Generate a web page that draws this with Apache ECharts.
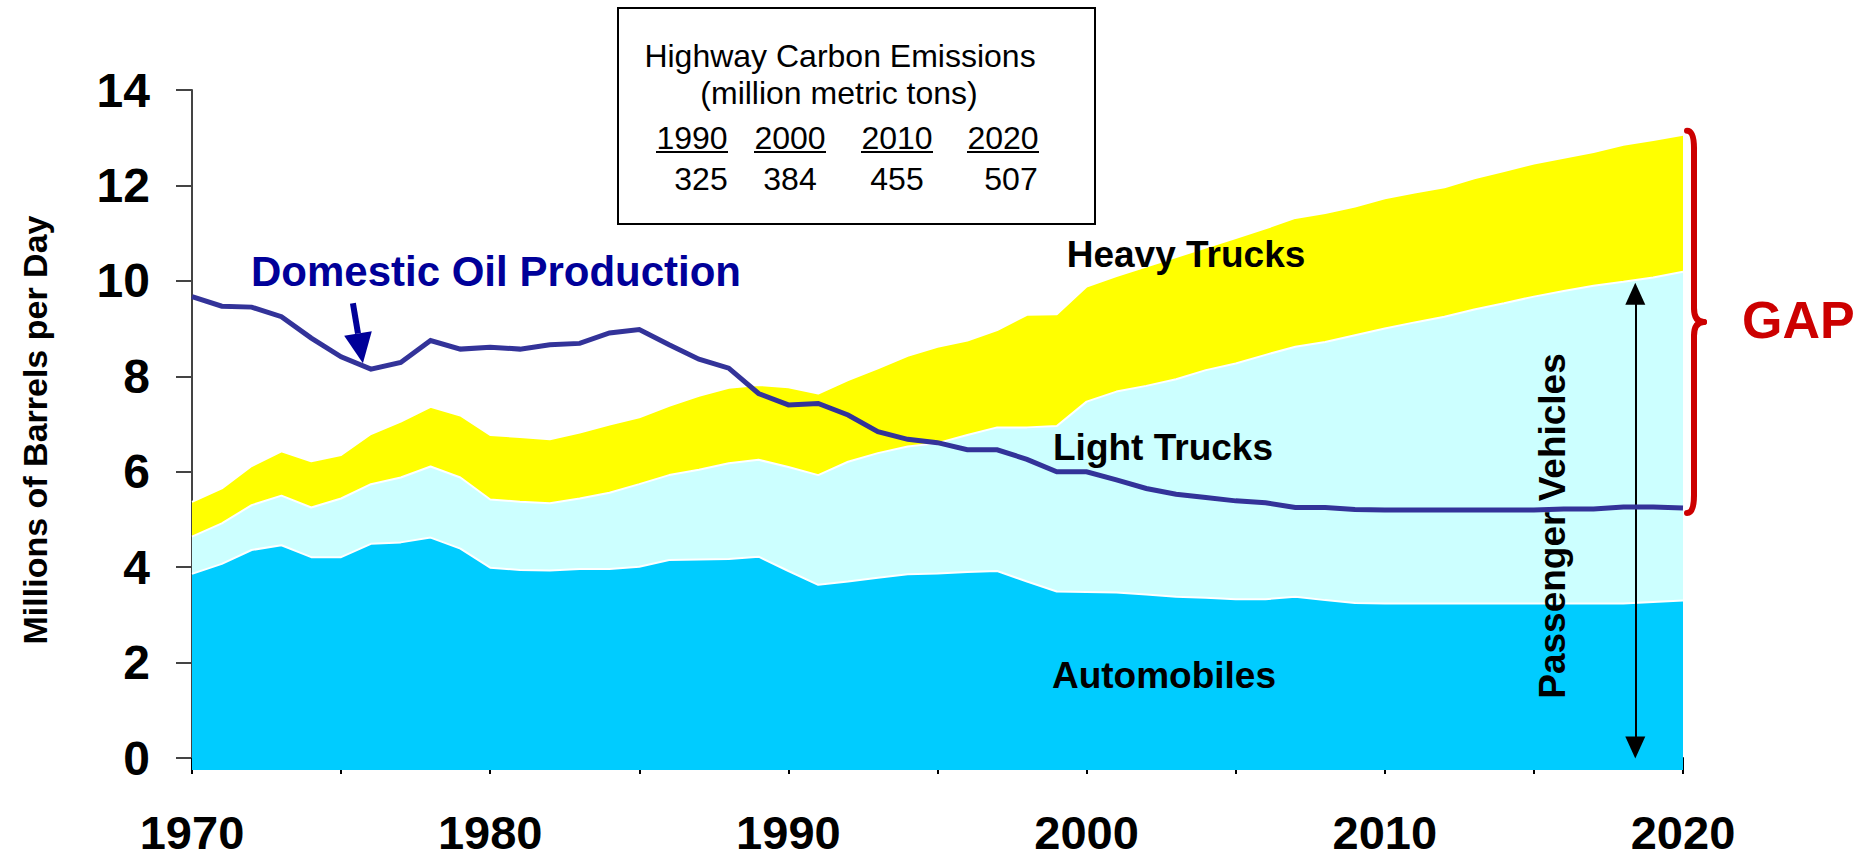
<!DOCTYPE html>
<html>
<head>
<meta charset="utf-8">
<script src="https://cdn.jsdelivr.net/npm/echarts@6/dist/echarts.min.js"></script>
<style>html,body{margin:0;padding:0;background:#fff;}#c{width:1869px;height:859px;}</style>
</head>
<body>
<div id="c"></div>
<script>
// ---- data (millions of barrels per day) ----
const years = [1970,1971,1972,1973,1974,1975,1976,1977,1978,1979,
  1980,1981,1982,1983,1984,1985,1986,1987,1988,1989,
  1990,1991,1992,1993,1994,1995,1996,1997,1998,1999,
  2000,2001,2002,2003,2004,2005,2006,2007,2008,2009,
  2010,2011,2012,2013,2014,2015,2016,2017,2018,2019,2020];
// Automobiles
const automobiles = [3.86,4.07,4.36,4.46,4.21,4.21,4.49,4.52,4.62,4.39,
  3.99,3.94,3.93,3.96,3.96,4.01,4.15,4.16,4.17,4.22,
  3.92,3.63,3.70,3.78,3.85,3.87,3.90,3.92,3.70,3.49,
  3.48,3.47,3.43,3.38,3.36,3.33,3.33,3.38,3.31,3.25,
  3.24,3.24,3.24,3.24,3.24,3.24,3.24,3.24,3.24,3.27,3.30];
// Automobiles + Light Trucks (cumulative top of light-truck band)
const autosPlusLightTrucks = [4.64,4.92,5.30,5.50,5.25,5.44,5.74,5.88,6.11,5.88,
  5.42,5.37,5.34,5.44,5.56,5.74,5.93,6.04,6.18,6.25,
  6.10,5.93,6.21,6.39,6.53,6.60,6.77,6.93,6.93,6.96,
  7.47,7.68,7.80,7.94,8.13,8.27,8.45,8.62,8.72,8.86,
  9.00,9.13,9.25,9.40,9.53,9.67,9.79,9.90,9.98,10.07,10.19];
// Automobiles + Light Trucks + Heavy Trucks (cumulative top of heavy-truck band)
const allHighwayVehicles = [5.37,5.65,6.12,6.43,6.22,6.35,6.79,7.05,7.36,7.18,
  6.77,6.73,6.68,6.82,6.99,7.14,7.38,7.59,7.76,7.82,
  7.77,7.64,7.92,8.17,8.43,8.62,8.75,8.97,9.29,9.30,
  9.88,10.10,10.30,10.50,10.70,10.90,11.10,11.32,11.42,11.56,
  11.73,11.85,11.96,12.15,12.30,12.46,12.58,12.70,12.85,12.95,13.06];
// Domestic oil production
const domesticOil = [9.67,9.47,9.45,9.25,8.80,8.41,8.15,8.29,8.75,8.57,
  8.61,8.57,8.66,8.69,8.91,8.98,8.66,8.36,8.17,7.64,
  7.40,7.43,7.19,6.84,6.68,6.61,6.46,6.46,6.26,6.00,
  6.00,5.83,5.65,5.53,5.46,5.39,5.35,5.25,5.25,5.21,
  5.20,5.20,5.20,5.20,5.20,5.20,5.22,5.22,5.26,5.26,5.24];
const yTickValues = [0,2,4,6,8,10,12,14];
// Highway carbon emissions table
const emissionYears = ['1990','2000','2010','2020'];
const emissionValues = ['325','384','455','507'];

const FONT = "'Liberation Sans', Arial, Helvetica, sans-serif";
const pairs = arr => years.map((y, i) => [y, arr[i]]);

const chart = echarts.init(document.getElementById('c'), null, {renderer: 'svg'});

const areaSeries = (name, arr, color, z) => ({
  name, type: 'line', data: pairs(arr), showSymbol: false, symbol: 'none',
  lineStyle: {color: '#ffffff', width: 2}, areaStyle: {color, opacity: 1, origin: 'start'},
  z, silent: true
});

chart.setOption({
  animation: false,
  backgroundColor: '#ffffff',
  grid: {left: 192, right: 186, top: 90, bottom: 89, containLabel: false, outerBoundsMode: 'none'},
  xAxis: {
    type: 'value', min: 1970, max: 2020, interval: 5,
    axisLine: {onZero: true, lineStyle: {color: '#000', width: 2}},
    axisTick: {show: true, length: 16, lineStyle: {color: '#000', width: 2}},
    axisLabel: {margin: 40, fontSize: 47, lineHeight: 44, fontWeight: 'bold', color: '#000', fontFamily: FONT,
      formatter: v => (v % 10 === 0 ? String(v) : '')},
    splitLine: {show: false}
  },
  yAxis: {
    type: 'value', min: -0.25, max: 14,
    name: 'Millions of Barrels per Day', nameLocation: 'middle', nameRotate: 90, nameGap: 140,
    nameTextStyle: {fontSize: 34, fontWeight: 'bold', color: '#000', fontFamily: FONT},
    axisLine: {show: true, lineStyle: {color: '#444', width: 2}},
    axisTick: {show: true, length: 16, customValues: yTickValues, lineStyle: {color: '#444', width: 2}},
    axisLabel: {margin: 42, fontSize: 48, fontWeight: 'bold', color: '#000', fontFamily: FONT,
      customValues: yTickValues},
    splitLine: {show: false}
  },
  series: [
    areaSeries('Heavy Trucks', allHighwayVehicles, '#FFFF00', 1),
    areaSeries('Light Trucks', autosPlusLightTrucks, '#CCFFFF', 2),
    areaSeries('Automobiles', automobiles, '#00CCFF', 3),
    {
      name: 'Domestic Oil Production', type: 'line', data: pairs(domesticOil),
      showSymbol: false, symbol: 'none', z: 5, silent: true,
      lineStyle: {color: '#333399', width: 5, join: 'miter'},
      markLine: {
        silent: true, symbol: ['triangle', 'triangle'], symbolSize: [20, 22],
        lineStyle: {color: '#000', width: 2, type: 'solid'}, label: {show: false},
        data: [[{coord: [2018.4, 0.22]}, {coord: [2018.4, 9.73]}]]
      }
    }
  ]
});

// ---- annotations anchored to the data scales ----
const xPx = v => chart.convertToPixel({xAxisIndex: 0}, v);
const yPx = v => chart.convertToPixel({yAxisIndex: 0}, v);
const last = years.length - 1;
const xEnd = xPx(years[last]);
const yTop = yPx(allHighwayVehicles[last]) - 4;
const yBot = yPx(domesticOil[last]) + 5;
const yMid = (yTop + yBot) / 2;
const xL = xEnd + 4, xV = xEnd + 11, xP = xEnd + 21;

// Domestic arrow pointing at 1976 minimum
const tipX = xPx(1976) - 8, tipY = yPx(domesticOil[6]) - 6;
const tailX = tipX - 10, tailY = tipY - 60;
const dx = tipX - tailX, dy = tipY - tailY, dl = Math.hypot(dx, dy);
const ux = dx / dl, uy = dy / dl, px = -uy, py = ux;
const bx = tipX - 30 * ux, by = tipY - 30 * uy;

const txt = (text, x, y, size, weight, color, align, extra) => Object.assign({
  type: 'text', x, y, silent: true, z: 100,
  style: {text, fontSize: size, fontWeight: weight, fill: color, fontFamily: FONT,
    align: align || 'center', verticalAlign: 'middle'}
}, extra || {});

const g = [];
// emissions table
g.push({type: 'rect', shape: {x: 618, y: 8, width: 477, height: 216}, z: 100, silent: true,
  style: {fill: '#fff', stroke: '#000', lineWidth: 2}});
g.push(txt('Highway Carbon Emissions', 840, 56, 32, 'normal', '#000'));
g.push(txt('(million metric tons)', 839, 93, 32, 'normal', '#000'));
const yearCx = [692, 790, 897, 1003];
const valCx = [701, 790, 897, 1011];
emissionYears.forEach((t, i) => {
  g.push(txt(t, yearCx[i], 138, 32, 'normal', '#000'));
  g.push({type: 'line', z: 100, silent: true, shape: {x1: yearCx[i] - 36, y1: 152, x2: yearCx[i] + 36, y2: 152},
    style: {stroke: '#000', lineWidth: 2}});
  g.push(txt(emissionValues[i], valCx[i], 179, 32, 'normal', '#000'));
});
// band labels
g.push(txt('Heavy Trucks', 1186, 254, 37, 'bold', '#000'));
g.push(txt('Light Trucks', 1163, 447, 37, 'bold', '#000'));
g.push(txt('Automobiles', 1164, 675, 37, 'bold', '#000'));
g.push(txt('Domestic Oil Production', 496, 271, 42, 'bold', '#000099'));
g.push(txt('Passenger Vehicles', 1552, 526, 37, 'bold', '#000', 'center', {rotation: Math.PI / 2}));
// domestic arrow
g.push({type: 'line', z: 100, silent: true, shape: {x1: tailX, y1: tailY, x2: bx, y2: by},
  style: {stroke: '#000099', lineWidth: 6}});
g.push({type: 'polygon', z: 100, silent: true,
  shape: {points: [[tipX, tipY], [bx + 14 * px, by + 14 * py], [bx - 14 * px, by - 14 * py]]},
  style: {fill: '#000099'}});
// GAP brace
const braceStyle = {stroke: '#CC0000', lineWidth: 6, fill: null, lineCap: 'round'};
const bz = (x1, y1, cx, cy, x2, y2) => ({type: 'bezierCurve', z: 100, silent: true,
  shape: {x1, y1, cpx1: cx, cpy1: cy, x2, y2}, style: braceStyle});
const ln = (x1, y1, x2, y2) => ({type: 'line', z: 100, silent: true, shape: {x1, y1, x2, y2}, style: braceStyle});
g.push(bz(xL, yTop, xV, yTop, xV, yTop + 18));
g.push(ln(xV, yTop + 18, xV, yMid - 14));
g.push(bz(xV, yMid - 14, xV, yMid, xP, yMid));
g.push(bz(xP, yMid, xV, yMid, xV, yMid + 14));
g.push(ln(xV, yMid + 14, xV, yBot - 18));
g.push(bz(xV, yBot - 18, xV, yBot, xL, yBot));
g.push(txt('GAP', xP + 38, yMid - 2, 52, 'bold', '#CC0000', 'left'));

chart.setOption({graphic: g});
</script>
</body>
</html>
